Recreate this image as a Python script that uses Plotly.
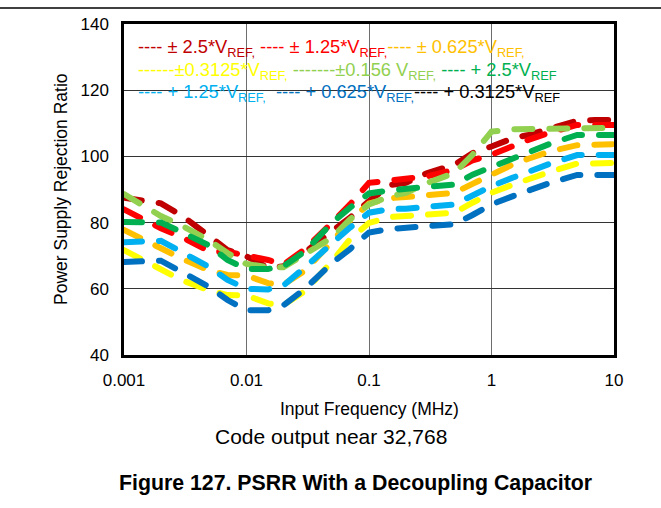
import plotly.graph_objects as go

freq_mhz = [0.001, 0.002, 0.003, 0.005, 0.007, 0.01, 0.015, 0.02, 0.03, 0.05, 0.07, 0.1,
            0.15, 0.2, 0.3, 0.5, 0.7, 1, 1.5, 2, 3, 5, 7, 10]

psrr_pm_2p5 = [87.5, 85.8, 82, 76, 71.7, 69.8, 66.3, 66.8, 71, 77.5, 81.5, 86.5,
               91.4, 92, 95, 97.5, 101, 103, 105.5, 106.5, 108.5, 110.8, 111, 111]
psrr_pm_1p25 = [84, 78.3, 75.5, 71.3, 71.2, 70.2, 68.7, 67.3, 72, 80, 85.5, 92,
                92.9, 93.4, 94, 96, 98.8, 100.5, 103.3, 105, 107.2, 109.5, 109.5, 109.5]
psrr_pm_0p625 = [77.8, 72, 69, 65.5, 64.2, 64, 61.7, 61.2, 65.5, 74.3, 80.5, 85.8,
                 87.4, 87.7, 88.3, 89, 91.7, 94.5, 97.6, 99.3, 101.5, 103.4, 103.7, 103.7]
psrr_pm_0p3125 = [71.7, 66, 62.5, 59.5, 58.1, 58, 55.6, 55.1, 59.3, 68.3, 75, 79.9,
                  81.7, 82, 82.3, 83, 86, 89, 91.5, 93.2, 95.3, 97.8, 98, 98]
psrr_pm_0p156 = [88.6, 82, 79, 74.5, 70.8, 67.5, 66.5, 66.5, 70.5, 75.5, 81, 85.5,
                 88, 89, 92, 95, 100.5, 107.5, 108.2, 108.3, 108.4, 108.6, 108.6, 108.6]
psrr_p_2p5 = [80.2, 80, 77, 73, 68.7, 66, 66, 66.8, 71.3, 80, 84.5, 88.8,
              89.8, 90.2, 90.8, 91.5, 94.5, 96.8, 99.5, 101.5, 103.8, 106.5, 106.5, 106.5]
psrr_p_1p25 = [74.1, 74.5, 71, 66.5, 62.7, 60, 59.8, 61, 66.5, 73.8, 78.5, 83,
               84.1, 84.2, 84.7, 85.5, 88.2, 91, 93.6, 95.5, 97.8, 100.4, 100.4, 100.4]
psrr_p_0p625 = [68.1, 68.5, 65, 60.5, 56.6, 53.5, 53.5, 55, 60, 67.8, 72, 77,
                78.1, 78.4, 78.7, 79.5, 82.3, 85.5, 88, 89.8, 92, 94.4, 94.4, 94.4]

series_names = ["± 2.5*VREF", "± 1.25*VREF", "± 0.625*VREF", "±0.3125*VREF", "±0.156 VREF",
                "+ 2.5*VREF", "+ 1.25*VREF", "+ 0.625*VREF"]
series_values = [psrr_pm_2p5, psrr_pm_1p25, psrr_pm_0p625, psrr_pm_0p3125, psrr_pm_0p156,
                 psrr_p_2p5, psrr_p_1p25, psrr_p_0p625]
series_colors = ["#C00000", "#FF0000", "#FFC000", "#FFFF00", "#92D050",
                 "#00B050", "#00B0F0", "#0070C0"]

y_ticks = [40, 60, 80, 100, 120, 140]
x_ticks = [0.001, 0.01, 0.1, 1, 10]
x_tick_labels = ["0.001", "0.01", "0.1", "1", "10"]

FONT = "Liberation Sans, Arial, sans-serif"

fig = go.Figure()
for name, vals, col in zip(series_names, series_values, series_colors):
    fig.add_trace(go.Scatter(
        x=freq_mhz, y=vals, mode="lines", name=name, showlegend=False,
        line=dict(color=col, width=6, dash="18px,17px"),
        hoverinfo="skip",
    ))

# plot area geometry (pixels)
L, R, T, B = 124, 614, 24, 355
W, H = R - L, B - T


def px(xp):
    return (xp - L) / W


def py(yp):
    return (B - yp) / H


shapes = [
    # legend white box covering the grid
    dict(type="rect", xref="paper", yref="paper", x0=px(127), x1=px(566), y0=py(110), y1=py(29),
         fillcolor="white", line=dict(width=0), layer="below"),
    # top frame line
    dict(type="line", xref="paper", yref="paper", x0=px(0), x1=px(661), y0=py(8), y1=py(8),
         line=dict(color="black", width=1.5)),
]


def sp(color, txt):
    return f'<span style="color:{color}">{txt}</span>'


row1 = (sp("#C00000", "---- ± 2.5*V<sub>REF,</sub>") + " " +
        sp("#FF0000", "---- ± 1.25*V<sub>REF,</sub>") +
        sp("#FFC000", "---- ± 0.625*V<sub>REF,</sub>"))
row2 = (sp("#FFFF00", "------±0.3125*V<sub>REF,</sub>") + " " +
        sp("#92D050", "-------±0.156 V<sub>REF,</sub>") + " " +
        sp("#00B050", "---- + 2.5*V<sub>REF</sub>"))
row3 = (sp("#00B0F0", "---- + 1.25*V<sub>REF,</sub>") + "  " +
        sp("#0070C0", "---- + 0.625*V<sub>REF,</sub>") +
        sp("#000000", "---- + 0.3125*V<sub>REF</sub>"))

annotations = []
for txt, yc in [(row1, 48), (row2, 71), (row3, 93)]:
    annotations.append(dict(xref="paper", yref="paper", x=px(136), y=py(yc), xanchor="left",
                            yanchor="middle", text=txt, showarrow=False,
                            font=dict(family=FONT, size=18.3)))

annotations += [
    dict(xref="paper", yref="paper", x=px(369), y=py(409), text="Input Frequency (MHz)",
         showarrow=False, xanchor="center", yanchor="middle",
         font=dict(family=FONT, size=17.5, color="black")),
    dict(xref="paper", yref="paper", x=px(331), y=py(436), text="Code output near 32,768",
         showarrow=False, xanchor="center", yanchor="middle",
         font=dict(family=FONT, size=21, color="black")),
    dict(xref="paper", yref="paper", x=px(355), y=py(483),
         text="<b>Figure 127. PSRR With a Decoupling Capacitor</b>",
         showarrow=False, xanchor="center", yanchor="middle",
         font=dict(family=FONT, size=21.3, color="black")),
    dict(xref="paper", yref="paper", x=px(61), y=py(189), text="Power Supply Rejection Ratio",
         showarrow=False, xanchor="center", yanchor="middle", textangle=-90,
         font=dict(family=FONT, size=17.5, color="black")),
]

fig.update_layout(
    width=661, height=508,
    margin=dict(l=L, r=661 - R, t=T, b=508 - B, pad=0),
    paper_bgcolor="white", plot_bgcolor="white",
    shapes=shapes, annotations=annotations,
    font=dict(family=FONT, size=17, color="black"),
    xaxis=dict(type="log", range=[-3, 1], tickvals=x_ticks, ticktext=x_tick_labels,
               showgrid=True, gridcolor="#6e6e6e", gridwidth=1,
               showline=True, linecolor="black", linewidth=2.5, mirror=True,
               ticks="", ticklabelstandoff=8, zeroline=False,
               tickfont=dict(family=FONT, size=17, color="black")),
    yaxis=dict(range=[40, 140], tickvals=y_ticks,
               showgrid=True, gridcolor="#333333", gridwidth=1,
               showline=True, linecolor="black", linewidth=2.5, mirror=True,
               ticks="", ticklabelstandoff=9, zeroline=False,
               tickfont=dict(family=FONT, size=17, color="black")),
)

post = """
document.body.style.margin = '0';
document.body.style.padding = '0';
var fixCaps = function(){
  document.querySelectorAll('.scatterlayer path.js-line').forEach(function(p){
    p.style.strokeLinecap = 'round';
  });
};
fixCaps();
var gd = document.getElementsByClassName('plotly-graph-div')[0];
if (gd && gd.on) { gd.on('plotly_afterplot', fixCaps); }
"""

fig.write_html("out.html", post_script=post, config={"displayModeBar": False})
